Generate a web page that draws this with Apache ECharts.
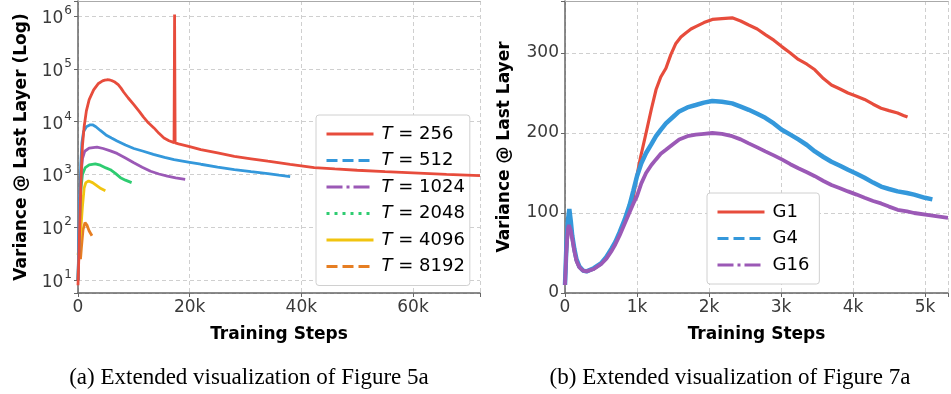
<!DOCTYPE html>
<html>
<head>
<meta charset="utf-8">
<script src="https://cdn.jsdelivr.net/npm/echarts@6/dist/echarts.min.js"></script>
<style>
html,body{margin:0;padding:0;background:#fff;}
#c{width:951px;height:394px;}
</style>
</head>
<body>
<div id="c"></div>
<script>
// ---------- Left panel: variance (log) vs training steps, per T ----------
const stepsT256 = [0,200,400,600,800,1100,1500,2000,2800,3600,4400,4800,5200,5600,6000,6600,7200,7700,8200,9000,10000,11000,11700,12600,13600,14500,15400,16300,17200,17300,17400,18000,20000,22000,25000,28000,31000,34000,38000,42300,46000,50000,55000,60000,66000,72000];
const varT256   = [8,40,250,1200,3500,8000,16000,26000,40000,52000,59000,61000,62000,61500,60000,56000,50000,43000,36000,28000,21000,15500,12300,9500,7600,6000,4900,4350,4000,1060000,3950,3800,3350,2950,2550,2200,1980,1780,1550,1350,1270,1200,1130,1070,1000,950];

const stepsT512 = [0,150,300,500,700,1000,1500,2200,2600,3200,4000,5000,6000,7000,8500,10000,11700,13500,15500,17200,20000,22000,25000,28000,31000,34000,36000,38000];
const varT512   = [10,60,300,1500,4000,6500,8000,8700,8700,8000,6800,5600,4900,4300,3600,3100,2750,2400,2100,1900,1700,1560,1380,1230,1130,1040,970,910];

const stepsT1024 = [0,150,300,500,800,1200,2000,3400,4500,5800,7000,8500,10000,11500,13000,14500,16000,17500,19200];
const varT1024   = [10,50,250,900,2000,2750,3150,3300,3100,2800,2500,2050,1660,1370,1150,1020,930,860,810];

const stepsT2048 = [0,150,300,500,800,1300,2000,3100,4000,5000,5800,6700,7600,8500,9600];
const varT2048   = [10,40,150,500,1000,1350,1520,1590,1500,1330,1230,1050,870,780,700];

const stepsT4096 = [0,300,500,800,1100,1400,1900,2600,3300,4100,4900];
const varT4096   = [30,50,90,250,550,700,750,700,620,540,490];

const stepsT8192 = [0,150,300,450,600,900,1260,1600,2000,2500];
const varT8192   = [10,30,60,25,40,90,123,110,85,69];

// ---------- Right panel: variance vs training steps, per group ----------
const stepsG1 = [0,20,40,60,80,100,130,160,200,250,300,400,500,575,650,700,759,830,897,950,989,1050,1126,1200,1264,1330,1402,1470,1540,1610,1678,1750,1816,1930,2046,2180,2322,2440,2552,2670,2782,2900,3011,3130,3241,3360,3471,3590,3701,3820,3931,4050,4161,4280,4390,4500,4620,4700,4758];
const varG1   = [10,50,75,85,80,70,55,40,32,28,27,30,37,44,55,63,75,90,104,120,142,170,200,230,254,270,281,298,312,320,325,330,333,338,342,343,344,340,335,330,323,316,308,300,292,286,279,268,260,255,250,246,242,236,231,228,225,222,220];

const stepsG4 = [0,20,40,60,80,100,130,160,200,250,300,400,500,575,650,700,759,830,897,950,1000,1060,1126,1200,1264,1330,1402,1500,1586,1700,1816,1930,2046,2180,2322,2440,2552,2670,2782,2900,3011,3130,3241,3360,3471,3590,3701,3820,3931,4050,4161,4280,4390,4500,4620,4750,4850,5000,5103];
const varG4   = [10,60,90,105,90,72,55,42,33,28,27,31,37,45,56,64,76,92,110,128,146,162,175,186,196,204,212,220,227,232,235,238,240,239,237,233,229,224,219,212,204,198,192,185,177,170,164,159,154,149,144,138,133,130,127,125,123,119,117];

const stepsG16 = [0,20,40,55,80,100,130,160,200,250,300,400,500,575,650,700,759,830,897,950,1000,1060,1126,1200,1264,1330,1402,1500,1586,1700,1816,1930,2046,2180,2322,2440,2552,2670,2782,2900,3011,3130,3241,3360,3471,3590,3701,3820,3931,4050,4161,4280,4390,4500,4620,4750,4850,5080,5320];
const varG16   = [10,55,80,85,78,68,52,40,32,28,27,30,36,43,53,61,72,87,101,112,121,137,150,160,167,174,179,186,192,196,198,199,200,199,196,192,187,182,177,172,167,161,156,151,146,140,135,131,127,123,119,115,112,108,104,102,100,97,94];

const leftNames  = ['T = 256','T = 512','T = 1024','T = 2048','T = 4096','T = 8192'];
const rightNames = ['G1','G4','G16'];
const captionA = '(a) Extended visualization of Figure 5a';
const captionB = '(b) Extended visualization of Figure 7a';
const xTitle = 'Training Steps';
const yTitleLeft = 'Variance @ Last Layer (Log)';
const yTitleRight = 'Variance @ Last Layer';

// ---------- styling ----------
const C = {red:'#e74c3c', blue:'#3498db', purple:'#9b59b6', green:'#2ecc71', yellow:'#f1c40f', orange:'#e67e22'};
const FONT = 'DejaVu Sans';
const pair = (xs, ys) => xs.map((x, i) => [x, ys[i]]);

const leftSeries = [
  {name: leftNames[0], xs: stepsT256,  ys: varT256,  color: C.red,    dash: 'solid'},
  {name: leftNames[1], xs: stepsT512,  ys: varT512,  color: C.blue,   dash: [11,5]},
  {name: leftNames[2], xs: stepsT1024, ys: varT1024, color: C.purple, dash: [16,4,3,4]},
  {name: leftNames[3], xs: stepsT2048, ys: varT2048, color: C.green,  dash: [3,5]},
  {name: leftNames[4], xs: stepsT4096, ys: varT4096, color: C.yellow, dash: 'solid'},
  {name: leftNames[5], xs: stepsT8192, ys: varT8192, color: C.orange, dash: [11,5]}
];
const rightSeries = [
  {name: rightNames[0], xs: stepsG1,  ys: varG1,  color: C.red,    dash: 'solid', w: 3.2},
  {name: rightNames[1], xs: stepsG4,  ys: varG4,  color: C.blue,   dash: [11,5], w: 4.5},
  {name: rightNames[2], xs: stepsG16, ys: varG16, color: C.purple, dash: [16,4,3,4], w: 3.8}
];

const series = [];
leftSeries.forEach(s => series.push({
  type: 'line', name: s.name, xAxisIndex: 0, yAxisIndex: 0, data: pair(s.xs, s.ys),
  symbol: 'none', smooth: false, z: 10 - series.length,
  lineStyle: {color: s.color, width: 2.8, type: 'solid'}, itemStyle: {color: s.color}
}));
rightSeries.forEach(s => series.push({
  type: 'line', name: s.name, xAxisIndex: 1, yAxisIndex: 1, data: pair(s.xs, s.ys),
  symbol: 'none', smooth: false,
  lineStyle: {color: s.color, width: s.w, type: 'solid'}, itemStyle: {color: s.color}
}));

const kFmt = v => v === 0 ? '0' : (v / 1000) + 'k';
const splitLine = {show: true, lineStyle: {color: '#cfcfcf', width: 1, type: [4, 3]}};
const axisLabel = {color: '#3a3a3a', fontFamily: FONT, fontSize: 17};
const axisLine = {show: true, lineStyle: {color: '#666', width: 1.5}};
const axisTick = {show: true, inside: false, length: 4, lineStyle: {color: '#666', width: 1}};
const nameStyle = {fontFamily: FONT, fontSize: 17, fontWeight: 'bold', color: '#000'};

const legendBase = {
  orient: 'vertical', itemWidth: 47, itemHeight: 14, itemGap: 6.5,
  backgroundColor: '#fff', borderColor: '#d0d0d0', borderWidth: 1, borderRadius: 3,
  textStyle: {fontFamily: FONT, fontSize: 18, color: '#000', lineHeight: 20, padding: [0,0,0,3],
    rich: {i: {fontFamily: FONT, fontSize: 18, fontStyle: 'italic', color: '#000', lineHeight: 20}}},
  selectedMode: false
};
const legendItem = s => ({name: s.name, itemStyle: {opacity: 0}, lineStyle: {color: s.color, width: 3, type: s.dash}});

const option = {
  animation: false,
  backgroundColor: '#fff',
  title: [
    {text: captionA, left: 244, top: 361, textAlign: 'center',
     textStyle: {fontFamily: 'Liberation Serif', fontSize: 23, fontWeight: 'normal', color: '#000'}},
    {text: captionB, left: 725, top: 361, textAlign: 'center',
     textStyle: {fontFamily: 'Liberation Serif', fontSize: 23, fontWeight: 'normal', color: '#000'}}
  ],
  grid: [
    {left: 78, top: 1, width: 402, height: 292},
    {left: 565, top: 1, width: 386, height: 292}
  ],
  xAxis: [
    {type: 'value', gridIndex: 0, min: 0, max: 72000, interval: 20000,
     name: xTitle, nameLocation: 'middle', nameGap: 33, nameTextStyle: nameStyle,
     axisLine, axisTick, splitLine,
     axisLabel: Object.assign({}, axisLabel, {margin: 6, formatter: v => v % 20000 === 0 ? kFmt(v) : ''})},
    {type: 'value', gridIndex: 1, min: 0, max: 5320, interval: 1000,
     name: xTitle, nameLocation: 'middle', nameGap: 33, nameTextStyle: nameStyle,
     axisLine, axisTick, splitLine,
     axisLabel: Object.assign({}, axisLabel, {margin: 6, formatter: v => v % 1000 === 0 ? kFmt(v) : ''})},
    {type: 'value', gridIndex: 0, position: 'top', min: 0, max: 72000,
     axisLine: {show: true, lineStyle: {color: '#aaa', width: 1.2}}, axisTick: {show: false}, axisLabel: {show: false}, splitLine: {show: false}},
    {type: 'value', gridIndex: 1, position: 'top', min: 0, max: 5320,
     axisLine: {show: true, lineStyle: {color: '#aaa', width: 1.2}}, axisTick: {show: false}, axisLabel: {show: false}, splitLine: {show: false}}
  ],
  yAxis: [
    {type: 'log', logBase: 10, gridIndex: 0, min: 5.7, max: 1.92e6,
     name: yTitleLeft, nameLocation: 'middle', nameGap: 48, nameTextStyle: nameStyle,
     axisLine, axisTick, splitLine,
     axisLabel: Object.assign({}, axisLabel, {margin: 6,
       formatter: v => {
         const e = Math.log10(v); const r = Math.round(e);
         if (Math.abs(e - r) > 1e-6) return '';
         return '{b|10}{s|' + r + '}';
       },
       rich: {
         b: {fontFamily: FONT, fontSize: 17, color: '#3a3a3a', lineHeight: 22, verticalAlign: 'bottom'},
         s: {fontFamily: FONT, fontSize: 12, color: '#3a3a3a', lineHeight: 22, verticalAlign: 'top', padding: [0,0,6,1]}
       }})},
    {type: 'value', gridIndex: 1, min: 0, max: 365, interval: 100,
     name: yTitleRight, nameLocation: 'middle', nameGap: 52, nameTextStyle: nameStyle,
     axisLine, axisTick, splitLine,
     axisLabel: Object.assign({}, axisLabel, {margin: 6, formatter: v => v % 100 === 0 ? String(v) : ''})}
  ],
  legend: [
    Object.assign({}, legendBase, {
      left: 316, top: 115, padding: [9, 5, 9, 9],
      formatter: n => '{i|T}' + n.slice(1),
      data: leftSeries.map(legendItem)
    }),
    Object.assign({}, legendBase, {
      left: 707, top: 193, padding: [9, 10, 9, 9],
      data: rightSeries.map(legendItem)
    })
  ],
  series
};

const chart = echarts.init(document.getElementById('c'), null, {renderer: 'canvas'});
chart.setOption(option);
</script>
</body>
</html>
